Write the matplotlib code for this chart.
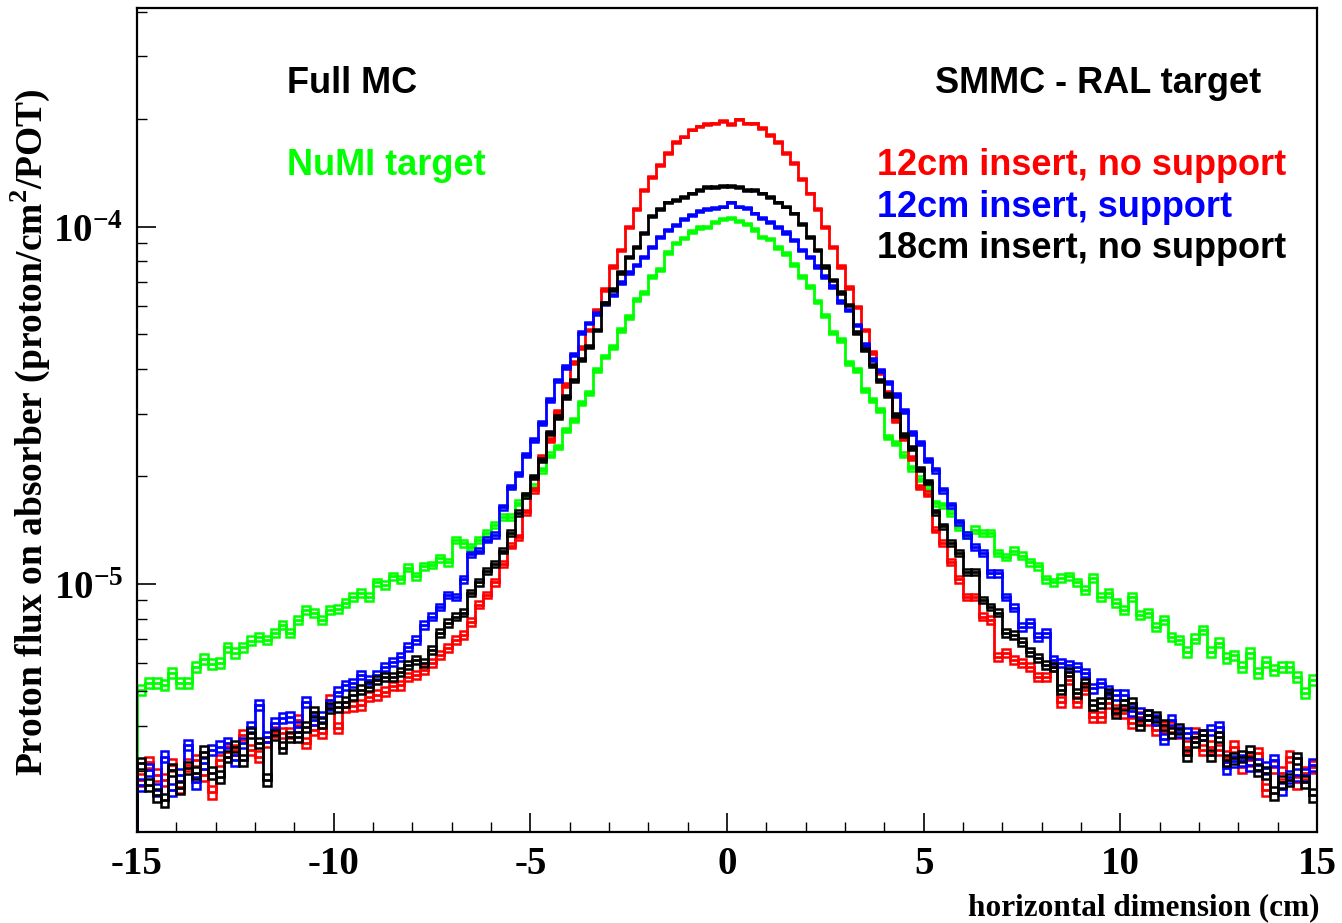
import numpy as np
import matplotlib
matplotlib.use('Agg')
import matplotlib.pyplot as plt
from matplotlib.ticker import FixedLocator, MultipleLocator, LogLocator, NullFormatter

# Proton flux per 0.2 cm bin, in units of 1e-6 proton/cm^2/POT (-15 .. 15 cm)
red = [2.83, 3.17, 2.92, 2.83, 3.11, 2.70, 3.11, 3.21, 2.92, 2.61,
       3.21, 3.39, 3.43, 3.78, 3.43, 3.28, 3.61, 3.85, 3.83, 3.83,
       4.16, 3.59, 3.90, 3.83, 4.73, 3.95, 4.52, 4.55, 4.58, 4.83,
       4.89, 4.99, 5.18, 5.21, 5.49, 5.56, 5.74, 6.01, 6.32, 6.62,
       6.97, 7.20, 7.83, 8.74, 9.32, 10.1, 11.4, 12.8, 13.5, 15.9,
       18.3, 22.7, 25.3, 30.3, 36.1, 41.6, 45.8, 51.4, 58.5, 66.7,
       77.4, 86.3, 100, 112, 127, 138, 149, 161, 173, 179,
       187, 191, 194, 195, 198, 194, 200, 195, 195, 189,
       181, 173, 161, 151, 136, 124, 112, 100, 88.0, 77.4,
       67.6, 59.6, 51.4, 44.4, 39.0, 34.3, 28.8, 25.6, 22.5, 18.7,
       17.9, 14.2, 13.0, 11.5, 10.3, 9.20, 9.20, 8.09, 7.93, 6.24,
       6.41, 6.12, 6.01, 5.85, 5.49, 5.49, 5.85, 4.67, 5.38, 4.67,
       5.05, 4.24, 4.24, 4.64, 4.44, 4.35, 4.08, 4.24, 4.16, 3.90,
       3.97, 3.97, 3.83, 3.50, 3.83, 3.43, 3.50, 3.43, 3.28, 3.50,
       3.07, 3.21, 3.36, 2.65, 3.07, 2.96, 3.28, 2.78, 2.96, 3.07]

blue = [2.74, 3.01, 2.65, 3.28, 2.65, 2.92, 3.54, 2.78, 3.15, 3.43,
        3.50, 3.59, 3.21, 3.59, 3.97, 4.58, 3.73, 4.08, 4.22, 4.24,
        3.97, 4.67, 4.16, 4.24, 4.58, 4.99, 5.21, 5.28, 5.56, 5.38,
        5.56, 5.85, 6.05, 6.24, 6.66, 6.97, 7.67, 8.09, 8.62, 9.32,
        9.20, 10.3, 12.1, 12.4, 13.3, 13.7, 16.4, 18.7, 20.3, 23.0,
        25.3, 28.2, 32.7, 37.2, 40.5, 43.8, 50.5, 53.8, 57.3, 61.0,
        64.5, 69.8, 74.5, 78.3, 82.5, 88.0, 93.8, 98.2, 101, 105,
        108, 111, 112, 113, 114, 117, 114, 113, 109, 106,
        103, 100, 96.4, 92.0, 86.3, 82.5, 77.4, 72.6, 68.0, 61.7,
        58.5, 53.1, 46.7, 42.4, 39.7, 36.7, 33.8, 30.5, 26.5, 24.8,
        22.2, 20.8, 18.3, 16.6, 14.9, 13.7, 12.7, 12.2, 10.7, 10.7,
        9.20, 8.57, 7.58, 7.77, 7.11, 7.29, 6.12, 6.01, 5.93, 5.85,
        5.63, 5.11, 5.28, 5.02, 4.89, 4.89, 4.41, 4.35, 4.30, 4.16,
        3.68, 4.16, 3.85, 3.83, 3.73, 3.78, 3.90, 3.97, 3.05, 3.19,
        3.21, 3.11, 3.11, 3.05, 3.21, 2.67, 2.88, 2.92, 2.92, 3.11]

black = [3.15, 2.74, 2.56, 2.48, 3.01, 2.69, 3.05, 2.96, 3.39, 2.96,
         2.88, 3.28, 3.50, 3.21, 3.83, 3.59, 2.83, 3.78, 3.48, 3.73,
         3.73, 3.97, 4.38, 4.08, 4.50, 4.52, 4.67, 4.89, 5.05, 5.15,
         5.38, 5.49, 5.49, 5.67, 5.93, 6.12, 6.01, 6.53, 7.29, 7.77,
         8.09, 8.30, 9.44, 10.1, 10.9, 11.4, 12.4, 13.9, 15.8, 17.7,
         19.9, 22.2, 26.5, 29.3, 33.4, 37.2, 42.4, 46.1, 51.4, 61.2,
         66.7, 74.5, 82.5, 88.0, 96.3, 107, 112, 117, 119, 121,
         124, 127, 129, 129, 130, 130, 129, 127, 127, 124,
         121, 117, 114, 109, 102, 93.8, 86.3, 77.4, 71.1, 65.4,
         60.4, 50.5, 45.2, 41.0, 37.2, 33.8, 29.7, 26.1, 24.0, 21.0,
         19.3, 15.9, 14.5, 13.0, 12.2, 10.8, 10.8, 9.02, 8.62, 8.30,
         7.29, 7.20, 6.88, 6.45, 6.20, 5.93, 5.85, 5.05, 5.67, 4.95,
         5.28, 4.58, 4.64, 4.95, 4.35, 4.58, 4.64, 4.03, 4.30, 4.24,
         4.03, 3.83, 3.92, 3.32, 3.61, 3.78, 3.32, 3.73, 3.21, 3.25,
         3.28, 3.39, 3.01, 2.96, 2.59, 2.79, 2.83, 3.25, 2.79, 2.56]

green = [5.05, 5.28, 5.28, 5.21, 5.63, 5.28, 5.28, 5.85, 6.16, 5.97,
         6.01, 6.66, 6.41, 6.66, 6.93, 7.11, 6.97, 7.29, 7.67, 7.29,
         7.93, 8.46, 8.30, 7.93, 8.46, 8.52, 8.85, 9.20, 9.44, 9.20,
         10.1, 9.94, 10.5, 10.3, 11.1, 10.5, 11.2, 11.3, 11.8, 11.5,
         13.3, 13.0, 12.7, 13.3, 13.9, 14.6, 15.4, 15.4, 16.9, 17.7,
         18.7, 20.8, 23.0, 24.2, 27.0, 28.8, 32.1, 34.3, 39.7, 43.3,
         46.1, 51.4, 55.9, 62.5, 65.3, 72.6, 75.9, 84.7, 90.2, 93.2,
         97.0, 99.5, 100, 103, 105, 106, 104, 102, 98.2, 93.8,
         92.6, 87.4, 84.1, 78.3, 72.6, 68.0, 61.7, 56.3, 50.5, 48.2,
         41.6, 39.7, 34.9, 32.7, 30.7, 25.8, 24.8, 23.0, 21.1, 19.7,
         18.5, 16.8, 16.6, 15.8, 14.4, 13.7, 14.2, 13.9, 13.9, 12.2,
         11.9, 12.4, 12.0, 11.5, 11.2, 10.3, 10.1, 10.4, 10.5, 10.1,
         9.63, 10.4, 9.20, 9.44, 8.85, 8.46, 9.20, 8.19, 8.30, 7.58,
         7.93, 7.11, 6.97, 6.45, 7.02, 7.43, 6.45, 6.84, 6.20, 6.32,
         5.85, 6.41, 5.63, 6.05, 5.74, 5.85, 5.85, 5.49, 4.95, 5.38]

# statistical error scale per histogram (relative error ~ k / sqrt(value))
err_scale = {'green': 0.075, 'red': 0.065, 'blue': 0.065, 'black': 0.065}

edges = np.linspace(-15, 15, 151)
centers = 0.5 * (edges[:-1] + edges[1:])

plt.rcParams['mathtext.fontset'] = 'custom'
plt.rcParams['mathtext.rm'] = 'Liberation Serif:bold'
plt.rcParams['mathtext.bf'] = 'Liberation Serif:bold'

fig = plt.figure(figsize=(13.42, 9.23), dpi=100)
ax = fig.add_axes([137 / 1342, 1 - 832 / 923, 1180 / 1342, 824 / 923])

series = [(green, '#00ff00', 'green'), (red, '#ff0000', 'red'),
          (blue, '#0000ff', 'blue'), (black, '#000000', 'black')]
for vals, col, name in series:
    v = np.array(vals) * 1e-6
    err = v * err_scale[name] / np.sqrt(np.array(vals))
    ax.bar(centers, 2 * err, bottom=v - err, width=0.2, fill=False,
           edgecolor=col, linewidth=1.8)
    ax.stairs(v, edges, color=col, linewidth=2.0)

ax.set_yscale('log')
ax.set_xlim(-15, 15)
ax.set_ylim(2.02e-6, 4.1e-4)

# ticks, ROOT style
ax.xaxis.set_major_locator(FixedLocator([-15, -10, -5, 0, 5, 10, 15]))
ax.xaxis.set_minor_locator(MultipleLocator(1))
ax.set_xticklabels(['-15', '-10', '-5', '0', '5', '10', '15'],
                   fontfamily='Liberation Serif', fontweight='bold', fontsize=28)
ax.yaxis.set_major_locator(FixedLocator([1e-5, 1e-4]))
ax.set_yticklabels([r'$\mathbf{10^{-5}}$', r'$\mathbf{10^{-4}}$'], fontsize=28)
ax.yaxis.set_minor_locator(LogLocator(base=10, subs=np.arange(2, 10)))
ax.yaxis.set_minor_formatter(NullFormatter())
ax.tick_params(which='major', direction='in', length=14, width=1.2, pad=10)
ax.tick_params(which='minor', direction='in', length=7, width=1.0)
for s in ax.spines.values():
    s.set_linewidth(1.6)

fig.text(30 / 1342, 1 - 432 / 923, 'Proton flux on absorber (proton/cm$^2$/POT)',
         rotation=90, ha='center', va='center', fontsize=27,
         fontfamily='Liberation Serif', fontweight='bold')
fig.text(1320 / 1342, 1 - 908 / 923, 'horizontal dimension (cm)', ha='right',
         va='center', fontsize=22.5, fontfamily='Liberation Serif', fontweight='bold')

labels = [('Full MC', 287, 93, 'black'),
          ('SMMC - RAL target', 935, 93, 'black'),
          ('NuMI target', 287, 175, '#00ff00'),
          ('12cm insert, no support', 877, 175, '#ff0000'),
          ('12cm insert, support', 877, 217, '#0000ff'),
          ('18cm insert, no support', 877, 258, 'black')]
for txt, x, y, col in labels:
    fig.text(x / 1342, 1 - y / 923, txt, color=col, fontsize=26,
             fontfamily='Liberation Sans', fontweight='bold', va='baseline')

fig.savefig('out.png', dpi=100)
